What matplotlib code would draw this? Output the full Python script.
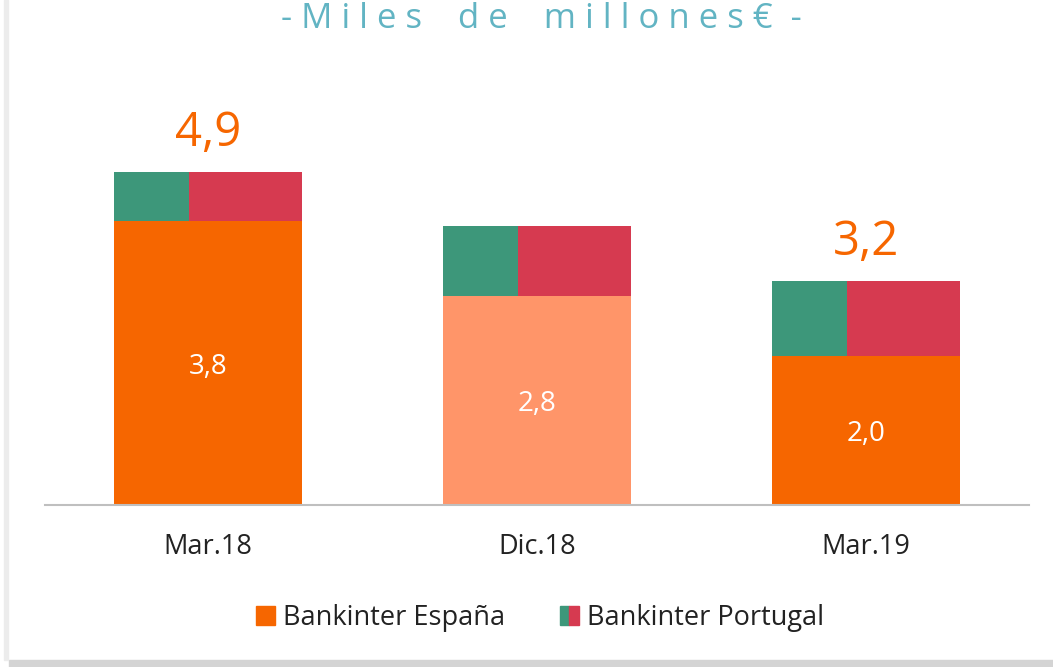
import matplotlib.pyplot as plt
from matplotlib.patches import Patch, Rectangle
from matplotlib.legend_handler import HandlerTuple

plt.rcParams['font.family'] = ['Liberation Sans Narrow', 'Open Sans', 'DejaVu Sans']

categories = ['Mar.18', 'Dic.18', 'Mar.19']
espana = [3.8, 2.8, 2.0]
portugal = [0.66, 0.94, 1.0]
espana_labels = ['3,8', '2,8', '2,0']
total_labels = ['4,9', '', '3,2']
espana_colors = ['#F66600', '#FF9569', '#F66600']

green = '#3D977A'
red = '#D63A50'
teal = '#62B4C3'

fig = plt.figure(figsize=(10.53, 6.67), dpi=100)
ax = fig.add_axes([0.043, 0.2429, 0.934, 0.672])

x = list(range(len(categories)))
w = 0.57
gfrac = 0.4

ax.bar(x, espana, width=w, color=espana_colors)
left = [i - w / 2 for i in x]
ax.bar(left, portugal, width=w * gfrac, bottom=espana, align='edge', color=green)
ax.bar([l + w * gfrac for l in left], portugal, width=w * (1 - gfrac), bottom=espana,
       align='edge', color=red)

for i in x:
    ax.text(i, espana[i] / 2 - 0.05, espana_labels[i], ha='center', va='center',
            color='white', fontsize=20)
    if total_labels[i]:
        ax.text(i, espana[i] + portugal[i] + 0.2, total_labels[i], ha='center',
                va='bottom', color='#F66600', fontsize=34)

ax.set_xlim(-0.495, 2.495)
ax.set_ylim(0, 6)
ax.set_xticks(x)
ax.set_xticklabels(categories, fontsize=19.5, color='#222222')
ax.tick_params(axis='x', length=0, pad=20)
ax.set_yticks([])
for s in ['top', 'right', 'left']:
    ax.spines[s].set_visible(False)
ax.spines['bottom'].set_color('#BFBFBF')
ax.spines['bottom'].set_linewidth(1.5)

fig.text(0.514, 0.972, '- M i l e s    d e    m i l l o n e s €  -', ha='center', va='center',
         color=teal, fontsize=25)

h_esp = Patch(color='#F66600')
h_por = (Patch(color=green), Patch(color=red))
fig.legend([h_esp, h_por], ['Bankinter España', 'Bankinter Portugal'],
           loc='center', bbox_to_anchor=(0.513, 0.073), ncol=2, frameon=False,
           fontsize=19.5, handlelength=0.7, handleheight=0.7, handletextpad=0.3,
           columnspacing=2.0, labelcolor='#222222',
           handler_map={tuple: HandlerTuple(ndivide=None, pad=0)})

# card shadow
fig.patches.append(Rectangle((0.009, 0.0), 0.991, 0.011, transform=fig.transFigure,
                             color='#D4D4D4', zorder=0))
fig.patches.append(Rectangle((0.004, 0.011), 0.004, 0.989, transform=fig.transFigure,
                             color='#ECECEC', zorder=0))

fig.savefig('out.png', dpi=100)
